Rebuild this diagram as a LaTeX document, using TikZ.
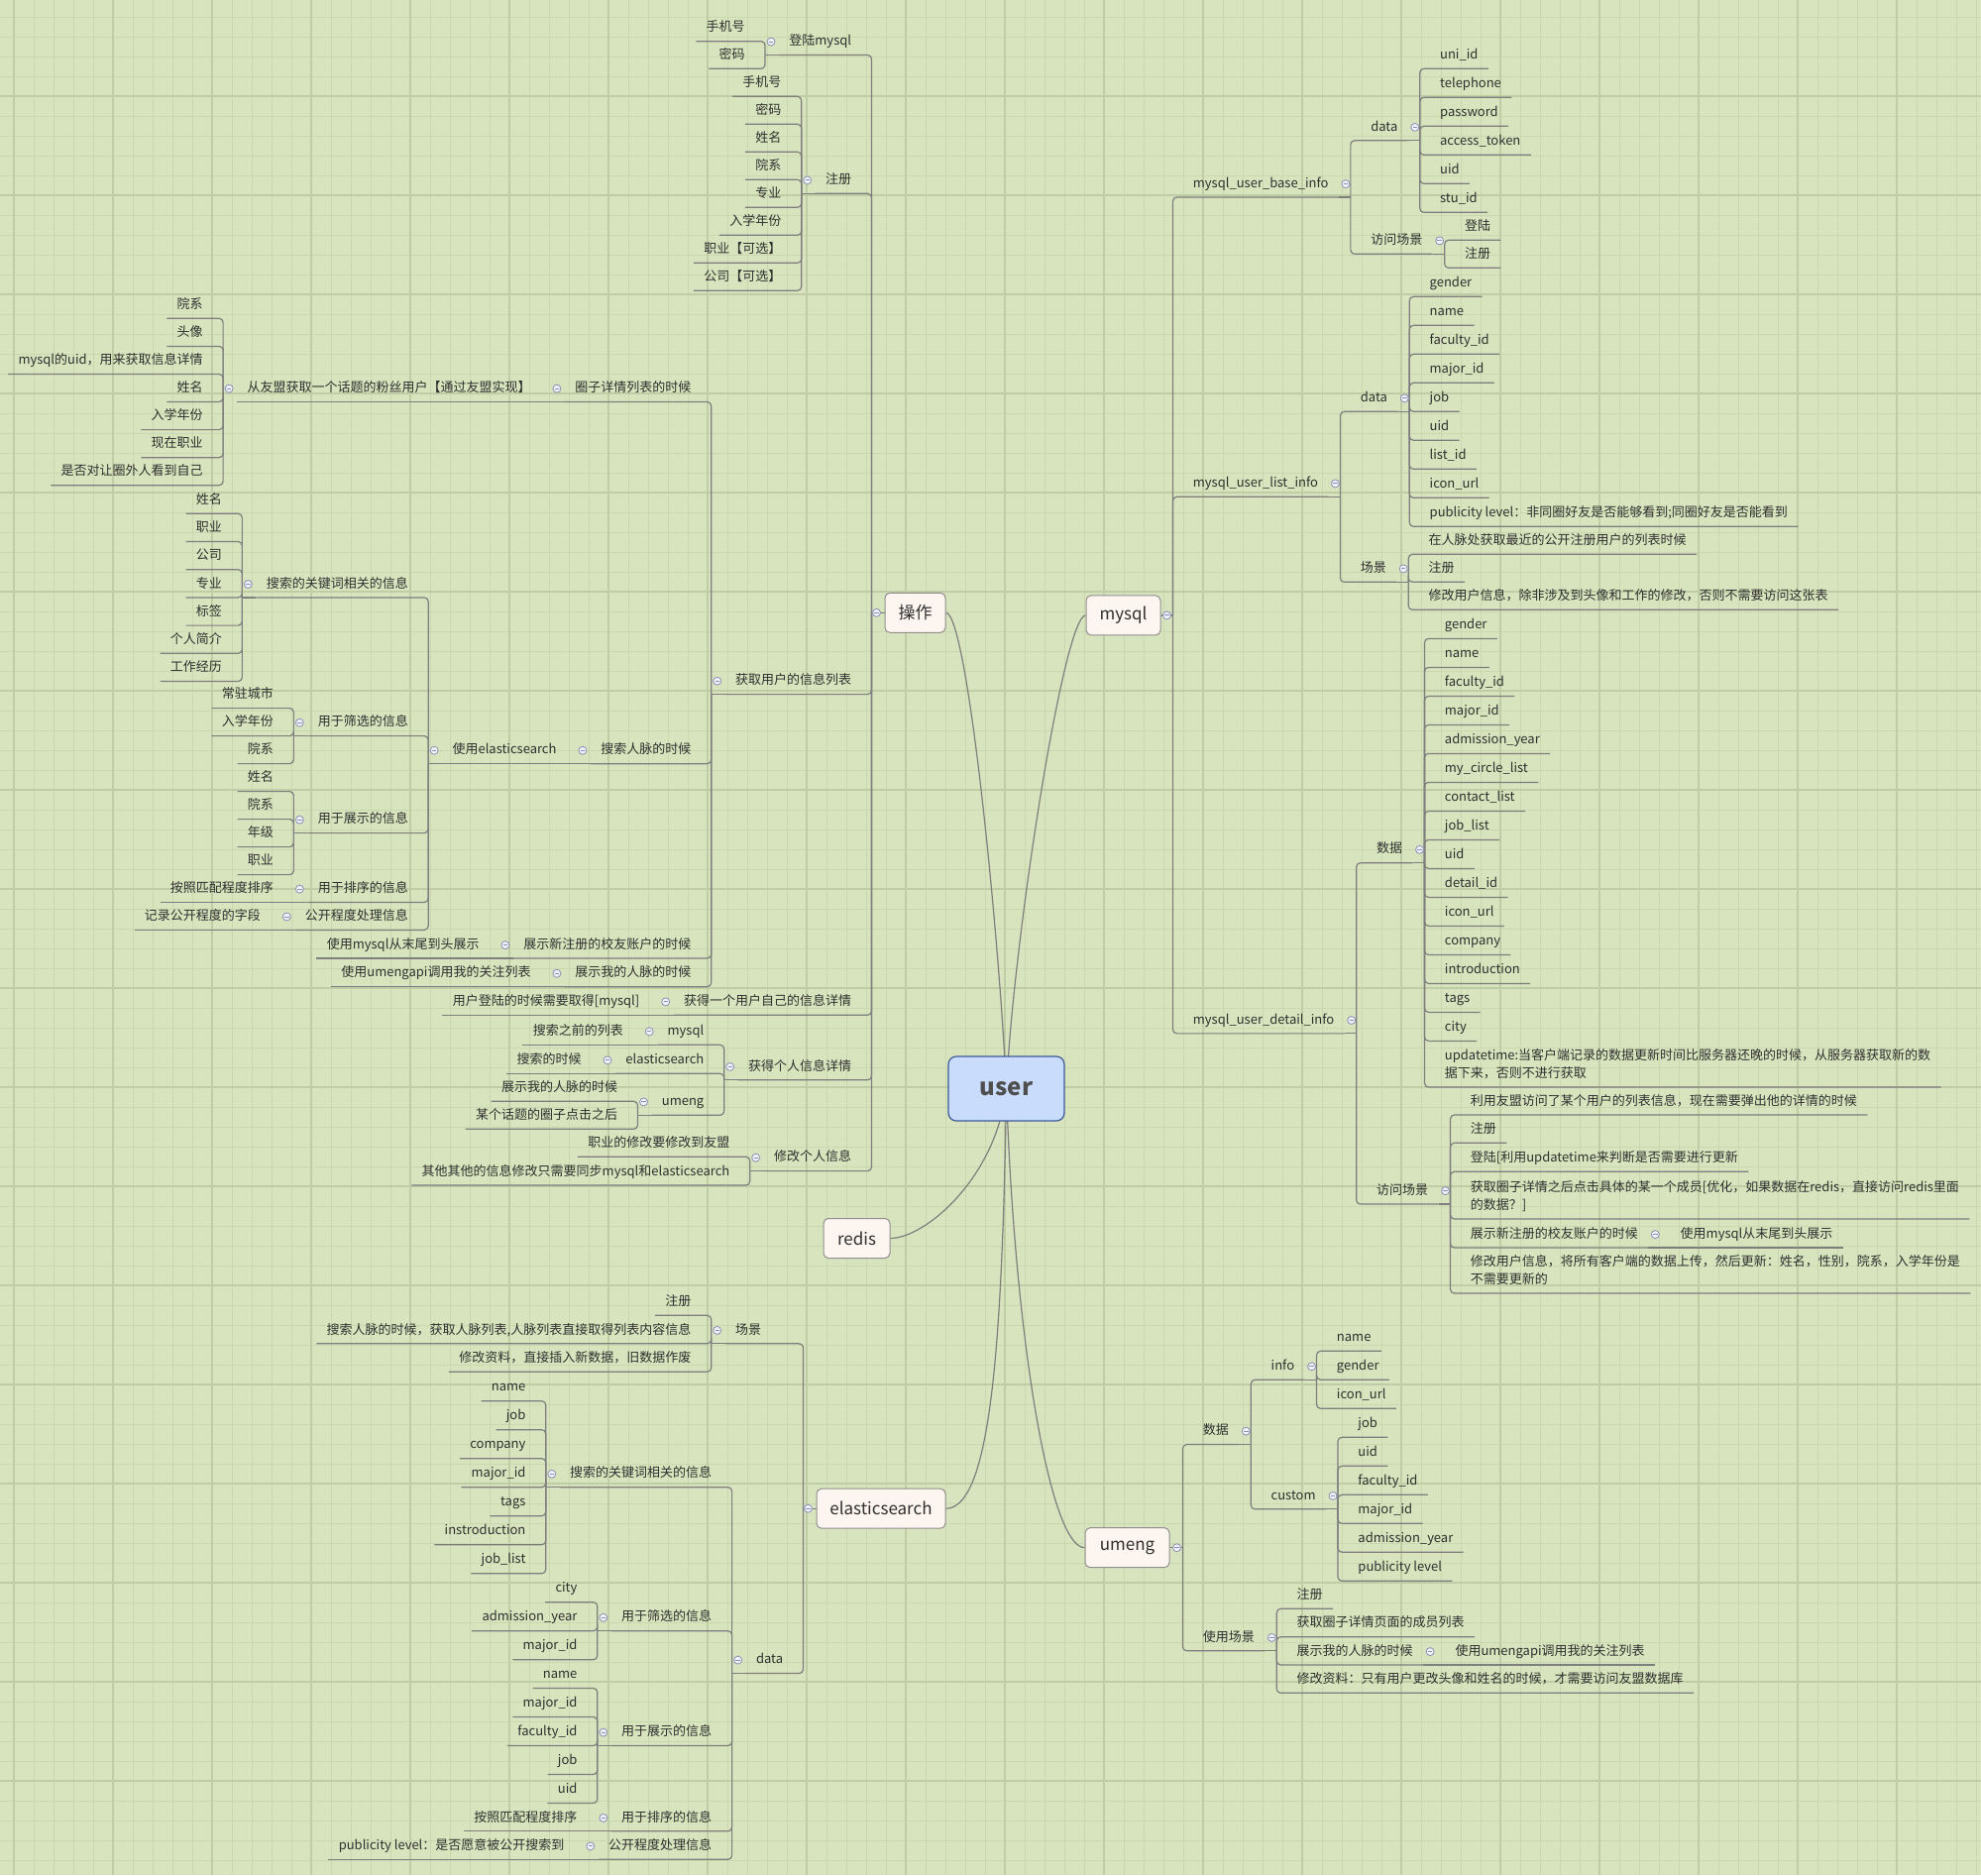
\documentclass[tikz,border=0pt]{standalone}
\usepackage{fontspec}
\setmainfont{Noto Sans CJK SC}
\usepackage{xcolor}
\definecolor{paper}{HTML}{D7E4BD}
\definecolor{gridthin}{HTML}{CAD8AF}
\definecolor{gridthick}{HTML}{BFCDA4}
\definecolor{ink}{HTML}{2F2F2F}
\definecolor{linkgray}{HTML}{7E7E7E}
\definecolor{boxfill}{HTML}{FDF5EF}
\definecolor{boxline}{HTML}{8F8F8F}
\definecolor{rootfill}{HTML}{C9DCFB}
\definecolor{rootline}{HTML}{3D5A98}
\definecolor{foldfill}{HTML}{F1F2F9}
\definecolor{foldline}{HTML}{8A90B5}
\pgfdeclarelayer{back}
\pgfdeclarelayer{links}
\pgfsetlayers{back,links,main}

\begin{document}
\begin{tikzpicture}[x=0.5pt,y=-0.5pt]
\tikzset{
  topic/.style={align=left,inner xsep=5pt,inner ysep=2pt,text=ink,font=\fontsize{6.5}{9}\selectfont,execute at begin node=\strut,execute at end node=\strut},
  rt/.style={topic,anchor=south west,xshift=5pt},
  lt/.style={topic,anchor=south east,xshift=-5pt},
  branch/.style={draw=boxline,fill=boxfill,line width=0.5pt,rounded corners=2.5pt,minimum height=20pt,inner xsep=2pt,text=ink,font=\fontsize{8.5}{10}\selectfont},
  central/.style={draw=rootline,fill=rootfill,line width=0.6pt,rounded corners=4pt,minimum width=58.5pt,minimum height=32.5pt,text=ink!85,font=\fontsize{12}{14}\selectfont\bfseries},
  link/.style={draw=linkgray,line width=0.6pt,rounded corners=2pt},
  curve/.style={draw=linkgray,line width=0.6pt},
  fold/.style={circle,draw=foldline,fill=foldfill,line width=0.4pt,minimum size=4pt,inner sep=0pt,
    path picture={\draw[foldline,line width=0.5pt] ([xshift=-1.1pt]path picture bounding box.center) -- ([xshift=1.1pt]path picture bounding box.center);}},
  minorline/.style={draw=gridthin,line width=0.5pt},
  majorline/.style={draw=gridthick,line width=0.6pt}
}
\useasboundingbox (0,0) rectangle (1999,1892);
\begin{pgfonlayer}{back}
  \fill[paper] (0,0) rectangle (1999,1892);
  \foreach \gx in {14,34,...,1994} \draw[minorline] (\gx,0) -- (\gx,1892);
  \foreach \gy in {17,37,...,1877} \draw[minorline] (0,\gy) -- (1999,\gy);
  \foreach \gx in {14,114,...,1914} \draw[majorline] (\gx,0) -- (\gx,1892);
  \foreach \gy in {97,197,...,1797} \draw[majorline] (0,\gy) -- (1999,\gy);
\end{pgfonlayer}

% centre and main branches
\node[central] (user) at (1015.5,1098.5) {user};
\node[branch,minimum width=30.5pt] (ops) at (923.5,618.3) {操作};
\node[branch,minimum width=37.5pt] (mysql) at (1133.5,620.9) {mysql};
\node[branch,minimum width=33.5pt] (redis) at (864.5,1249.5) {redis};
\node[branch,minimum width=65pt] (es) at (889,1522.2) {elasticsearch};
\node[branch,minimum width=42.5pt] (umeng) at (1137.5,1561.7) {umeng};
\begin{pgfonlayer}{links}
  \draw[curve] (user.center) .. controls +(-7,-150) and +(22,0) .. (ops.east);
  \draw[curve] (user.center) .. controls +(7,-150) and +(-22,0) .. (mysql.west);
  \draw[curve] (user.center) .. controls +(-10,90) and +(35,0) .. (redis.east);
  \draw[curve] (user.center) .. controls +(-4,260) and +(45,0) .. (es.east);
  \draw[curve] (user.center) .. controls +(8,250) and +(-35,0) .. (umeng.west);
\end{pgfonlayer}

% 操作
\coordinate (ops-b) at ([xshift=-6.5pt]ops.west);
\foreach \i/\y/\t in {1/55.5/登陆mysql,2/195.3/注册,3/700.6/获取用户的信息列表,4/1024.3/获得一个用户自己的信息详情,5/1089.8/获得个人信息详情,6/1181.6/修改个人信息}{
  \node[lt] (ops-\i) at (ops-b |- 0,\y) {\t};
  \draw[link] (ops-b) |- (ops-\i.south west);}
\draw[link] (ops.west) -- (ops-b);
\node[fold] (ops-f) at ([xshift=-4pt]ops.west) {};

\coordinate (ops-1-b) at ([xshift=-7pt]ops-1.south west);
\foreach \i/\y/\t in {1/41.7/手机号,2/69.3/密码}{
  \node[lt] (ops-1-\i) at (ops-1-b |- 0,\y) {\t};
  \draw[link] (ops-1-b) |- (ops-1-\i.south west);}
\draw[link] (ops-1.south west) -- (ops-1-b);
\node[fold] (ops-1-f) at ([xshift=-4pt]ops-1.west) {};

\coordinate (ops-2-b) at ([xshift=-7pt]ops-2.south west);
\foreach \i/\y/\t in {1/97.3/手机号,2/125.3/密码,3/153.3/姓名,4/181.3/院系,5/209.3/专业,6/237.3/入学年份,7/265.3/职业【可选】,8/293.3/公司【可选】}{
  \node[lt] (ops-2-\i) at (ops-2-b |- 0,\y) {\t};
  \draw[link] (ops-2-b) |- (ops-2-\i.south west);}
\draw[link] (ops-2.south west) -- (ops-2-b);
\node[fold] (ops-2-f) at ([xshift=-4pt]ops-2.west) {};

\coordinate (ops-3-b) at ([xshift=-7pt]ops-3.south west);
\foreach \i/\y/\t in {1/405.5/圈子详情列表的时候,2/770.65/搜索人脉的时候,3/967/展示新注册的校友账户的时候,4/995.7/展示我的人脉的时候}{
  \node[lt] (ops-3-\i) at (ops-3-b |- 0,\y) {\t};
  \draw[link] (ops-3-b) |- (ops-3-\i.south west);}
\draw[link] (ops-3.south west) -- (ops-3-b);
\node[fold] (ops-3-f) at ([xshift=-4pt]ops-3.west) {};

\coordinate (ops-3-1-b) at ([xshift=-7pt]ops-3-1.south west);
\node[lt] (ops-3-1-1) at (ops-3-1-b |- 0,405.5) {从友盟获取一个话题的粉丝用户【通过友盟实现】};
\draw[link] (ops-3-1.south west) -- (ops-3-1-1.south west);
\node[fold] (ops-3-1-f) at ([xshift=-4pt]ops-3-1.west) {};

\coordinate (ops-3-1-1-b) at ([xshift=-7pt]ops-3-1-1.south west);
\foreach \i/\y/\t in {1/321.3/院系,2/349.4/头像,3/377.5/mysql的uid，用来获取信息详情,4/405.5/姓名,5/433.6/入学年份,6/461.7/现在职业,7/489.7/是否对让圈外人看到自己}{
  \node[lt] (ops-3-1-1-\i) at (ops-3-1-1-b |- 0,\y) {\t};
  \draw[link] (ops-3-1-1-b) |- (ops-3-1-1-\i.south west);}
\node[fold] (ops-3-1-1-f) at ([xshift=-4pt]ops-3-1-1.west) {};

\coordinate (ops-3-2-b) at ([xshift=-7pt]ops-3-2.south west);
\node[lt] (ops-3-2-1) at (ops-3-2-b |- 0,770.65) {使用elasticsearch};
\draw[link] (ops-3-2.south west) -- (ops-3-2-1.south west);
\node[fold] (ops-3-2-f) at ([xshift=-4pt]ops-3-2.west) {};

\coordinate (ops-3-2-1-b) at ([xshift=-7pt]ops-3-2-1.south west);
\foreach \i/\y/\t in {1/602.9/搜索的关键词相关的信息,2/742.6/用于筛选的信息,3/840.6/用于展示的信息,4/910.5/用于排序的信息,5/938.4/公开程度处理信息}{
  \node[lt] (ops-3-2-1-\i) at (ops-3-2-1-b |- 0,\y) {\t};
  \draw[link] (ops-3-2-1-b) |- (ops-3-2-1-\i.south west);}
\draw[link] (ops-3-2-1.south west) -- (ops-3-2-1-b);
\node[fold] (ops-3-2-1-f) at ([xshift=-4pt]ops-3-2-1.west) {};

\coordinate (ops-3-2-1-1-b) at ([xshift=-7pt]ops-3-2-1-1.south west);
\foreach \i/\y/\t in {1/518.3/姓名,2/546.5/职业,3/574.7/公司,4/602.9/专业,5/631.1/标签,6/659.3/个人简介,7/687.5/工作经历}{
  \node[lt] (ops-3-2-1-1-\i) at (ops-3-2-1-1-b |- 0,\y) {\t};
  \draw[link] (ops-3-2-1-1-b) |- (ops-3-2-1-1-\i.south west);}
\draw[link] (ops-3-2-1-1.south west) -- (ops-3-2-1-1-b);
\node[fold] (ops-3-2-1-1-f) at ([xshift=-4pt]ops-3-2-1-1.west) {};

\coordinate (ops-3-2-1-2-b) at ([xshift=-7pt]ops-3-2-1-2.south west);
\foreach \i/\y/\t in {1/714.6/常驻城市,2/742.6/入学年份,3/770.6/院系}{
  \node[lt] (ops-3-2-1-2-\i) at (ops-3-2-1-2-b |- 0,\y) {\t};
  \draw[link] (ops-3-2-1-2-b) |- (ops-3-2-1-2-\i.south west);}
\draw[link] (ops-3-2-1-2.south west) -- (ops-3-2-1-2-b);
\node[fold] (ops-3-2-1-2-f) at ([xshift=-4pt]ops-3-2-1-2.west) {};

\coordinate (ops-3-2-1-3-b) at ([xshift=-7pt]ops-3-2-1-3.south west);
\foreach \i/\y/\t in {1/798.6/姓名,2/826.6/院系,3/854.6/年级,4/882.6/职业}{
  \node[lt] (ops-3-2-1-3-\i) at (ops-3-2-1-3-b |- 0,\y) {\t};
  \draw[link] (ops-3-2-1-3-b) |- (ops-3-2-1-3-\i.south west);}
\draw[link] (ops-3-2-1-3.south west) -- (ops-3-2-1-3-b);
\node[fold] (ops-3-2-1-3-f) at ([xshift=-4pt]ops-3-2-1-3.west) {};

\coordinate (ops-3-2-1-4-b) at ([xshift=-7pt]ops-3-2-1-4.south west);
\node[lt] (ops-3-2-1-4-1) at (ops-3-2-1-4-b |- 0,910.5) {按照匹配程度排序};
\draw[link] (ops-3-2-1-4.south west) -- (ops-3-2-1-4-1.south west);
\node[fold] (ops-3-2-1-4-f) at ([xshift=-4pt]ops-3-2-1-4.west) {};

\coordinate (ops-3-2-1-5-b) at ([xshift=-7pt]ops-3-2-1-5.south west);
\node[lt] (ops-3-2-1-5-1) at (ops-3-2-1-5-b |- 0,938.4) {记录公开程度的字段};
\draw[link] (ops-3-2-1-5.south west) -- (ops-3-2-1-5-1.south west);
\node[fold] (ops-3-2-1-5-f) at ([xshift=-4pt]ops-3-2-1-5.west) {};

\coordinate (ops-3-3-b) at ([xshift=-7pt]ops-3-3.south west);
\node[lt] (ops-3-3-1) at (ops-3-3-b |- 0,967) {使用mysql从末尾到头展示};
\draw[link] (ops-3-3.south west) -- (ops-3-3-1.south west);
\node[fold] (ops-3-3-f) at ([xshift=-4pt]ops-3-3.west) {};

\coordinate (ops-3-4-b) at ([xshift=-7pt]ops-3-4.south west);
\node[lt] (ops-3-4-1) at (ops-3-4-b |- 0,995.7) {使用umengapi调用我的关注列表};
\draw[link] (ops-3-4.south west) -- (ops-3-4-1.south west);
\node[fold] (ops-3-4-f) at ([xshift=-4pt]ops-3-4.west) {};

\coordinate (ops-4-b) at ([xshift=-7pt]ops-4.south west);
\node[lt] (ops-4-1) at (ops-4-b |- 0,1024.3) {用户登陆的时候需要取得[mysql]};
\draw[link] (ops-4.south west) -- (ops-4-1.south west);
\node[fold] (ops-4-f) at ([xshift=-4pt]ops-4.west) {};

\coordinate (ops-5-b) at ([xshift=-7pt]ops-5.south west);
\foreach \i/\y/\t in {1/1054.3/mysql,2/1083.3/elasticsearch,3/1125.3/umeng}{
  \node[lt] (ops-5-\i) at (ops-5-b |- 0,\y) {\t};
  \draw[link] (ops-5-b) |- (ops-5-\i.south west);}
\draw[link] (ops-5.south west) -- (ops-5-b);
\node[fold] (ops-5-f) at ([xshift=-4pt]ops-5.west) {};

\coordinate (ops-5-1-b) at ([xshift=-7pt]ops-5-1.south west);
\node[lt] (ops-5-1-1) at (ops-5-1-b |- 0,1054.3) {搜索之前的列表};
\draw[link] (ops-5-1.south west) -- (ops-5-1-1.south west);
\node[fold] (ops-5-1-f) at ([xshift=-4pt]ops-5-1.west) {};

\coordinate (ops-5-2-b) at ([xshift=-7pt]ops-5-2.south west);
\node[lt] (ops-5-2-1) at (ops-5-2-b |- 0,1083.3) {搜索的时候};
\draw[link] (ops-5-2.south west) -- (ops-5-2-1.south west);
\node[fold] (ops-5-2-f) at ([xshift=-4pt]ops-5-2.west) {};

\coordinate (ops-5-3-b) at ([xshift=-7pt]ops-5-3.south west);
\foreach \i/\y/\t in {1/1111.3/展示我的人脉的时候,2/1139.3/某个话题的圈子点击之后}{
  \node[lt] (ops-5-3-\i) at (ops-5-3-b |- 0,\y) {\t};
  \draw[link] (ops-5-3-b) |- (ops-5-3-\i.south west);}
\draw[link] (ops-5-3.south west) -- (ops-5-3-b);
\node[fold] (ops-5-3-f) at ([xshift=-4pt]ops-5-3.west) {};

\coordinate (ops-6-b) at ([xshift=-7pt]ops-6.south west);
\foreach \i/\y/\t in {1/1167.3/职业的修改要修改到友盟,2/1196/其他其他的信息修改只需要同步mysql和elasticsearch}{
  \node[lt] (ops-6-\i) at (ops-6-b |- 0,\y) {\t};
  \draw[link] (ops-6-b) |- (ops-6-\i.south west);}
\draw[link] (ops-6.south west) -- (ops-6-b);
\node[fold] (ops-6-f) at ([xshift=-4pt]ops-6.west) {};

% mysql
\coordinate (mysql-b) at ([xshift=6pt]mysql.east);
\foreach \i/\y/\t in {1/199/mysql\_user\_base\_info,2/501.3/mysql\_user\_list\_info,3/1042.85/mysql\_user\_detail\_info}{
  \node[rt] (mysql-\i) at (mysql-b |- 0,\y) {\t};
  \draw[link] (mysql-b) |- (mysql-\i.south east);}
\draw[link] (mysql.east) -- (mysql-b);
\node[fold] (mysql-f) at ([xshift=3pt]mysql.east) {};

\coordinate (mysql-1-b) at ([xshift=6pt]mysql-1.south east);
\foreach \i/\y/\t in {1/141.8/data,2/256.3/访问场景}{
  \node[rt] (mysql-1-\i) at (mysql-1-b |- 0,\y) {\t};
  \draw[link] (mysql-1-b) |- (mysql-1-\i.south east);}
\draw[link] (mysql-1.south east) -- (mysql-1-b);
\node[fold] (mysql-1-f) at ([xshift=3.5pt]mysql-1.east) {};

\coordinate (mysql-1-1-b) at ([xshift=6pt]mysql-1-1.south east);
\foreach \i/\y/\t in {1/69.3/uni\_id,2/98.3/telephone,3/127.3/password,4/156.3/access\_token,5/185.3/uid,6/214.3/stu\_id}{
  \node[rt] (mysql-1-1-\i) at (mysql-1-1-b |- 0,\y) {\t};
  \draw[link] (mysql-1-1-b) |- (mysql-1-1-\i.south east);}
\draw[link] (mysql-1-1.south east) -- (mysql-1-1-b);
\node[fold] (mysql-1-1-f) at ([xshift=3.5pt]mysql-1-1.east) {};

\coordinate (mysql-1-2-b) at ([xshift=6pt]mysql-1-2.south east);
\foreach \i/\y/\t in {1/242.3/登陆,2/270.3/注册}{
  \node[rt] (mysql-1-2-\i) at (mysql-1-2-b |- 0,\y) {\t};
  \draw[link] (mysql-1-2-b) |- (mysql-1-2-\i.south east);}
\draw[link] (mysql-1-2.south east) -- (mysql-1-2-b);
\node[fold] (mysql-1-2-f) at ([xshift=3.5pt]mysql-1-2.east) {};

\coordinate (mysql-2-b) at ([xshift=6pt]mysql-2.south east);
\foreach \i/\y/\t in {1/415.3/data,2/587.3/场景}{
  \node[rt] (mysql-2-\i) at (mysql-2-b |- 0,\y) {\t};
  \draw[link] (mysql-2-b) |- (mysql-2-\i.south east);}
\draw[link] (mysql-2.south east) -- (mysql-2-b);
\node[fold] (mysql-2-f) at ([xshift=3.5pt]mysql-2.east) {};

\coordinate (mysql-2-1-b) at ([xshift=6pt]mysql-2-1.south east);
\foreach \i/\y/\t in {1/299.3/gender,2/328.3/name,3/357.3/faculty\_id,4/386.3/major\_id,5/415.3/job,6/444.3/uid,7/473.3/list\_id,8/502.3/icon\_url,9/531.3/publicity level：非同圈好友是否能够看到;同圈好友是否能看到}{
  \node[rt] (mysql-2-1-\i) at (mysql-2-1-b |- 0,\y) {\t};
  \draw[link] (mysql-2-1-b) |- (mysql-2-1-\i.south east);}
\draw[link] (mysql-2-1.south east) -- (mysql-2-1-b);
\node[fold] (mysql-2-1-f) at ([xshift=3.5pt]mysql-2-1.east) {};

\coordinate (mysql-2-2-b) at ([xshift=6pt]mysql-2-2.south east);
\foreach \i/\y/\t in {1/559.3/在人脉处获取最近的公开注册用户的列表时候,2/587.3/注册,3/615.3/修改用户信息，除非涉及到头像和工作的修改，否则不需要访问这张表}{
  \node[rt] (mysql-2-2-\i) at (mysql-2-2-b |- 0,\y) {\t};
  \draw[link] (mysql-2-2-b) |- (mysql-2-2-\i.south east);}
\draw[link] (mysql-2-2.south east) -- (mysql-2-2-b);
\node[fold] (mysql-2-2-f) at ([xshift=3.5pt]mysql-2-2.east) {};

\coordinate (mysql-3-b) at ([xshift=6pt]mysql-3.south east);
\foreach \i/\y/\t in {1/870.7/数据,2/1215/访问场景}{
  \node[rt] (mysql-3-\i) at (mysql-3-b |- 0,\y) {\t};
  \draw[link] (mysql-3-b) |- (mysql-3-\i.south east);}
\draw[link] (mysql-3.south east) -- (mysql-3-b);
\node[fold] (mysql-3-f) at ([xshift=3.5pt]mysql-3.east) {};

\coordinate (mysql-3-1-b) at ([xshift=6pt]mysql-3-1.south east);
\foreach \i/\y/\t in {1/644.4/gender,2/673.4/name,3/702.4/faculty\_id,4/731.4/major\_id,5/760.4/admission\_year,6/789.4/my\_circle\_list,7/818.4/contact\_list,8/847.4/job\_list,9/876.4/uid,10/905.4/detail\_id,11/934.4/icon\_url,12/963.4/company,13/992.4/introduction,14/1021.4/tags,15/1050.4/city,16/1097/{updatetime:当客户端记录的数据更新时间比服务器还晚的时候，从服务器获取新的数\\据下来，否则不进行获取}}{
  \node[rt] (mysql-3-1-\i) at (mysql-3-1-b |- 0,\y) {\t};
  \draw[link] (mysql-3-1-b) |- (mysql-3-1-\i.south east);}
\draw[link] (mysql-3-1.south east) -- (mysql-3-1-b);
\node[fold] (mysql-3-1-f) at ([xshift=3.5pt]mysql-3-1.east) {};

\coordinate (mysql-3-2-b) at ([xshift=6pt]mysql-3-2.south east);
\foreach \i/\y/\t in {1/1125/利用友盟访问了某个用户的列表信息，现在需要弹出他的详情的时候,2/1153.3/注册,3/1182.3/{登陆[利用updatetime来判断是否需要进行更新},4/1230/{获取圈子详情之后点击具体的某一个成员[优化，如果数据在redis，直接访问redis里面\\的数据？]},5/1259/展示新注册的校友账户的时候,6/1305/{修改用户信息，将所有客户端的数据上传，然后更新：姓名，性别，院系，入学年份是\\不需要更新的}}{
  \node[rt] (mysql-3-2-\i) at (mysql-3-2-b |- 0,\y) {\t};
  \draw[link] (mysql-3-2-b) |- (mysql-3-2-\i.south east);}
\draw[link] (mysql-3-2.south east) -- (mysql-3-2-b);
\node[fold] (mysql-3-2-f) at ([xshift=3.5pt]mysql-3-2.east) {};

\coordinate (mysql-3-2-5-b) at ([xshift=6pt]mysql-3-2-5.south east);
\node[rt] (mysql-3-2-5-1) at (mysql-3-2-5-b |- 0,1259) {使用mysql从末尾到头展示};
\draw[link] (mysql-3-2-5.south east) -- (mysql-3-2-5-1.south east);
\node[fold] (mysql-3-2-5-f) at ([xshift=3.5pt]mysql-3-2-5.east) {};

% umeng
\coordinate (umeng-b) at ([xshift=6.5pt]umeng.east);
\foreach \i/\y/\t in {1/1457.55/数据,2/1665.8/使用场景}{
  \node[rt] (umeng-\i) at (umeng-b |- 0,\y) {\t};
  \draw[link] (umeng-b) |- (umeng-\i.south east);}
\draw[link] (umeng.east) -- (umeng-b);
\node[fold] (umeng-f) at ([xshift=3.5pt]umeng.east) {};

\coordinate (umeng-1-b) at ([xshift=6pt]umeng-1.south east);
\foreach \i/\y/\t in {1/1392.3/info,2/1522.8/custom}{
  \node[rt] (umeng-1-\i) at (umeng-1-b |- 0,\y) {\t};
  \draw[link] (umeng-1-b) |- (umeng-1-\i.south east);}
\draw[link] (umeng-1.south east) -- (umeng-1-b);
\node[fold] (umeng-1-f) at ([xshift=3.5pt]umeng-1.east) {};

\coordinate (umeng-1-1-b) at ([xshift=6pt]umeng-1-1.south east);
\foreach \i/\y/\t in {1/1363.3/name,2/1392.3/gender,3/1421.3/icon\_url}{
  \node[rt] (umeng-1-1-\i) at (umeng-1-1-b |- 0,\y) {\t};
  \draw[link] (umeng-1-1-b) |- (umeng-1-1-\i.south east);}
\draw[link] (umeng-1-1.south east) -- (umeng-1-1-b);
\node[fold] (umeng-1-1-f) at ([xshift=3.5pt]umeng-1-1.east) {};

\coordinate (umeng-1-2-b) at ([xshift=6pt]umeng-1-2.south east);
\foreach \i/\y/\t in {1/1450.3/job,2/1479.3/uid,3/1508.3/faculty\_id,4/1537.3/major\_id,5/1566.3/admission\_year,6/1595.3/publicity level}{
  \node[rt] (umeng-1-2-\i) at (umeng-1-2-b |- 0,\y) {\t};
  \draw[link] (umeng-1-2-b) |- (umeng-1-2-\i.south east);}
\draw[link] (umeng-1-2.south east) -- (umeng-1-2-b);
\node[fold] (umeng-1-2-f) at ([xshift=3.5pt]umeng-1-2.east) {};

\coordinate (umeng-2-b) at ([xshift=6pt]umeng-2.south east);
\foreach \i/\y/\t in {1/1623.3/注册,2/1651.7/获取圈子详情页面的成员列表,3/1680/展示我的人脉的时候,4/1708.3/修改资料：只有用户更改头像和姓名的时候，才需要访问友盟数据库}{
  \node[rt] (umeng-2-\i) at (umeng-2-b |- 0,\y) {\t};
  \draw[link] (umeng-2-b) |- (umeng-2-\i.south east);}
\draw[link] (umeng-2.south east) -- (umeng-2-b);
\node[fold] (umeng-2-f) at ([xshift=3.5pt]umeng-2.east) {};

\coordinate (umeng-2-3-b) at ([xshift=6pt]umeng-2-3.south east);
\node[rt] (umeng-2-3-1) at (umeng-2-3-b |- 0,1680) {使用umengapi调用我的关注列表};
\draw[link] (umeng-2-3.south east) -- (umeng-2-3-1.south east);
\node[fold] (umeng-2-3-f) at ([xshift=3.5pt]umeng-2-3.east) {};

% elasticsearch
\coordinate (es-b) at ([xshift=-6.5pt]es.west);
\node[lt,xshift=-11pt] (es-1) at (es-b |- 0,1355.8) {场景};
\node[lt] (es-2) at (es-b |- 0,1688.5) {data};
\foreach \i in {1,2} \draw[link] (es-b) |- (es-\i.south west);
\draw[link] (es.west) -- (es-b);
\node[fold] (es-f) at ([xshift=-4pt]es.west) {};

\coordinate (es-1-b) at ([xshift=-7pt]es-1.south west);
\foreach \i/\y/\t in {1/1327.3/注册,2/1355.8/{搜索人脉的时候，获取人脉列表,人脉列表直接取得列表内容信息},3/1384.3/修改资料，直接插入新数据，旧数据作废}{
  \node[lt] (es-1-\i) at (es-1-b |- 0,\y) {\t};
  \draw[link] (es-1-b) |- (es-1-\i.south west);}
\draw[link] (es-1.south west) -- (es-1-b);
\node[fold] (es-1-f) at ([xshift=-4pt]es-1.west) {};

\coordinate (es-2-b) at ([xshift=-7pt]es-2.south west);
\foreach \i/\y/\t in {1/1500.7/搜索的关键词相关的信息,2/1645.7/用于筛选的信息,3/1761.5/用于展示的信息,4/1847.8/用于排序的信息,5/1876.3/公开程度处理信息}{
  \node[lt] (es-2-\i) at (es-2-b |- 0,\y) {\t};
  \draw[link] (es-2-b) |- (es-2-\i.south west);}
\draw[link] (es-2.south west) -- (es-2-b);
\node[fold] (es-2-f) at ([xshift=-4pt]es-2.west) {};

\coordinate (es-2-1-b) at ([xshift=-7pt]es-2-1.south west);
\foreach \i/\y/\t in {1/1413.7/name,2/1442.7/job,3/1471.7/company,4/1500.7/major\_id,5/1529.7/tags,6/1558.7/instroduction,7/1587.7/job\_list}{
  \node[lt] (es-2-1-\i) at (es-2-1-b |- 0,\y) {\t};
  \draw[link] (es-2-1-b) |- (es-2-1-\i.south west);}
\draw[link] (es-2-1.south west) -- (es-2-1-b);
\node[fold] (es-2-1-f) at ([xshift=-4pt]es-2-1.west) {};

\coordinate (es-2-2-b) at ([xshift=-7pt]es-2-2.south west);
\foreach \i/\y/\t in {1/1616.7/city,2/1645.7/admission\_year,3/1674.7/major\_id}{
  \node[lt] (es-2-2-\i) at (es-2-2-b |- 0,\y) {\t};
  \draw[link] (es-2-2-b) |- (es-2-2-\i.south west);}
\draw[link] (es-2-2.south west) -- (es-2-2-b);
\node[fold] (es-2-2-f) at ([xshift=-4pt]es-2-2.west) {};

\coordinate (es-2-3-b) at ([xshift=-7pt]es-2-3.south west);
\foreach \i/\y/\t in {1/1703.5/name,2/1732.5/major\_id,3/1761.5/faculty\_id,4/1790.5/job,5/1819.5/uid}{
  \node[lt] (es-2-3-\i) at (es-2-3-b |- 0,\y) {\t};
  \draw[link] (es-2-3-b) |- (es-2-3-\i.south west);}
\draw[link] (es-2-3.south west) -- (es-2-3-b);
\node[fold] (es-2-3-f) at ([xshift=-4pt]es-2-3.west) {};

\coordinate (es-2-4-b) at ([xshift=-7pt]es-2-4.south west);
\node[lt] (es-2-4-1) at (es-2-4-b |- 0,1847.8) {按照匹配程度排序};
\draw[link] (es-2-4.south west) -- (es-2-4-1.south west);
\node[fold] (es-2-4-f) at ([xshift=-4pt]es-2-4.west) {};

\coordinate (es-2-5-b) at ([xshift=-7pt]es-2-5.south west);
\node[lt] (es-2-5-1) at (es-2-5-b |- 0,1876.3) {publicity level：是否愿意被公开搜索到};
\draw[link] (es-2-5.south west) -- (es-2-5-1.south west);
\node[fold] (es-2-5-f) at ([xshift=-4pt]es-2-5.west) {};
\end{tikzpicture}
\end{document}
